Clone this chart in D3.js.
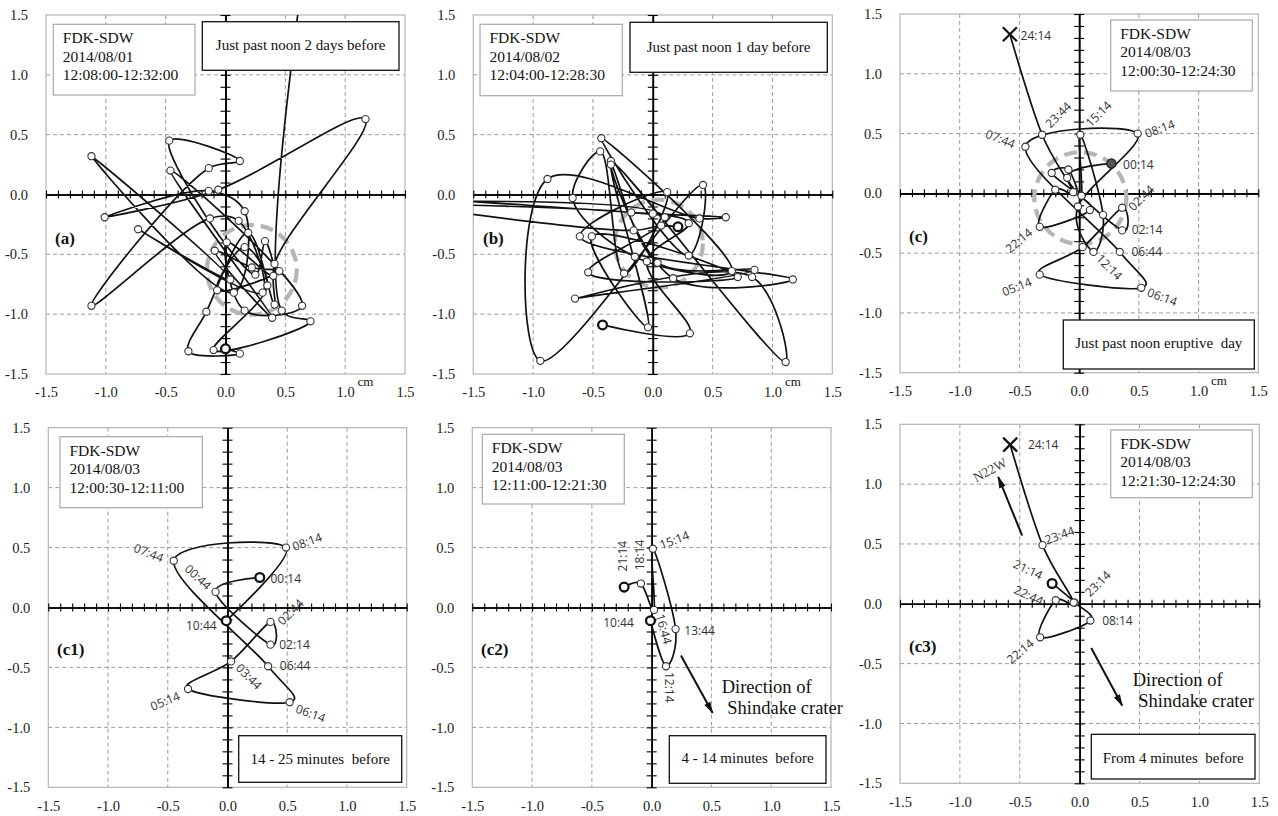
<!DOCTYPE html>
<html>
<head>
<meta charset="utf-8">
<script src="https://cdn.jsdelivr.net/npm/d3@7"></script>
<style>
  body { margin: 0; background: #fff; }
  svg { display: block; }
  text { white-space: pre; }
</style>
</head>
<body>
<svg id="chart" width="1278" height="816"></svg>
<script>
// ---- axis values -------------------------------------------------------
const tickValues = [-1.5, -1.0, -0.5, 0.0, 0.5, 1.0, 1.5];
const gridValues = [-1.0, -0.5, 0.5, 1.0];
const minorTicks = d3.range(-15, 16).map(i => i / 10);

// ---- panel texts -------------------------------------------------------
const station = "FDK-SDW";
const dates = ["2014/08/01", "2014/08/02", "2014/08/03", "2014/08/03", "2014/08/03", "2014/08/03"];
const spans = ["12:08:00-12:32:00", "12:04:00-12:28:30", "12:00:30-12:24:30",
               "12:00:30-12:11:00", "12:11:00-12:21:30", "12:21:30-12:24:30"];
const notes = ["Just past noon 2 days before", "Just past noon 1 day before", "Just past noon eruptive  day",
               "14 - 25 minutes  before", "4 - 14 minutes  before", "From 4 minutes  before"];
const tags = ["(a)", "(b)", "(c)", "(c1)", "(c2)", "(c3)"];

// ---- tilt tracks (cm): 2014/08/01 and 2014/08/02 -----------------------
const trackA = [
  [0.00, -1.29], [0.12, -1.33], [-0.31, -1.31], [-0.16, -0.98], [0.19, -0.32],
  [0.41, -0.92], [0.41, -0.58], [1.17, 0.63], [-0.06, 0.04],
  [-1.01, -0.19], [-0.14, 0.03], [0.16, -0.14], [0.07, -0.82], [-1.12, 0.32],
  [0.04, -0.71], [-0.73, -0.29], [0.31, -0.82], [0.11, -0.22], [-0.13, -0.20],
  [-1.12, -0.93], [-0.14, 0.22], [0.12, 0.28], [-0.47, 0.45], [0.25, -0.67],
  [0.33, -0.39], [0.40, -0.68], [0.01, -0.40], [0.16, -0.97], [0.64, -0.93],
  [-0.46, 0.20], [0.39, -1.03], [-0.09, -0.47], [0.22, -0.61], [0.45, -0.64],
  [-0.07, -0.80], [0.16, -0.44], [0.35, -0.76], [-0.10, -1.30], [0.71, -1.06],
  [0.47, -0.97], [0.85, 3.20]
];
const trackB = [
  [0.21, -0.27], [0.07, -0.26], [-0.16, -0.30], [-2.60, 0.00], [0.00, -0.16],
  [0.61, -0.19], [0.39, -0.20], [-0.88, 0.13], [-0.94, -1.39], [0.42, 0.08],
  [0.30, -0.51], [-0.43, 0.47], [0.66, -0.64], [-0.15, -0.52], [-0.67, -0.03],
  [-0.44, 0.36], [-0.24, -0.66], [0.12, 0.02], [-0.61, -0.35], [1.17, -0.71],
  [0.17, -0.70], [-0.35, 0.28], [1.11, -1.40], [0.83, -0.69], [-0.65, -0.87],
  [0.85, -0.63], [0.04, -0.57], [-0.35, 0.25], [-0.04, -1.11], [-0.51, -0.35],
  [0.71, -0.69], [-0.54, -0.65], [0.10, -0.19], [-2.60, -0.07], [-0.18, -0.15],
  [0.30, -0.24], [-0.05, -0.56], [0.31, -1.16], [-0.42, -1.09]
];

// ---- 2014/08/03, split into three stretches (label = mm:ss after 12:00) --
const c1Times = ["00:14", "00:44", "02:14", "02:44", "03:44", "05:14", "06:14", "06:44", "07:44", "08:14", "10:44"];
const c1X = [0.27, -0.10, 0.36, 0.36, 0.03, -0.33, 0.52, 0.34, -0.45, 0.49, -0.01];
const c1Y = [0.25, 0.13, -0.31, -0.12, -0.45, -0.68, -0.79, -0.49, 0.39, 0.50, -0.11];

const c2Times = ["10:44", "12:14", "13:44", "15:14", "16:44", "18:14", "21:14"];
const c2X = [-0.01, 0.12, 0.20, 0.01, 0.02, -0.09, -0.23];
const c2Y = [-0.11, -0.49, -0.18, 0.49, -0.02, 0.20, 0.17];

const c3Times = ["21:14", "", "08:14", "22:14", "22:44", "23:14", "23:44", "24:14"];
const c3X = [-0.23, -0.04, 0.09, -0.33, -0.20, -0.05, -0.31, -0.58];
const c3Y = [0.17, 0.01, -0.14, -0.28, 0.03, 0.01, 0.49, 1.33];

// grey dashed reference circles: centre x, centre y, radius (cm)
const haloA = [0.22, -0.63, 0.375];
const haloB = [0.05, -0.41, 0.368];
const haloC = [0.01, -0.04, 0.385];

// direction arrows (cm): crater direction and N22W
const craterArrowC2 = [[0.245, -0.40], [0.51, -0.88]];
const craterArrowC3 = [[0.097, -0.37], [0.355, -0.85]];
const northArrowC3 = [[-0.48, 0.57], [-0.68, 1.06]];

// ---- assemble series ---------------------------------------------------
function series(part, times, xs, ys) {
  return times.map((t, i) => ({ part, t, x: xs[i], y: ys[i] }));
}
const s1 = series("c1", c1Times, c1X, c1Y);
const s2 = series("c2", c2Times, c2X, c2Y);
const s3 = series("c3", c3Times, c3X, c3Y);
const sAll = [...s1, ...s2.slice(1), ...s3.slice(1)];
const sA = trackA.map(([x, y]) => ({ part: "a", t: "", x, y }));
const sB = trackB.map(([x, y]) => ({ part: "b", t: "", x, y }));

// ---- label placement: [part, label, dx, dy, rotation] ------------------
const labelsC = [
  ["c1", "07:44", -25, -8, 22], ["c1", "08:14", 22, -5, -20], ["c1", "00:14", 27, 1, 0],
  ["c1", "02:44", 19, -10, -45], ["c1", "02:14", 25, -1, 0], ["c1", "06:44", 27, 0, 0],
  ["c1", "05:14", -23, 12, -22], ["c1", "06:14", 21, 9, 20],
  ["c2", "15:14", 18, -21, -45], ["c2", "12:14", 16, 15, 45],
  ["c3", "24:14", 26, 1, 0], ["c3", "23:44", 16, -20, -45], ["c3", "22:14", -21, 13.6, -40]
];
const labelsC1 = [
  ["c1", "00:14", 26, 1, 0], ["c1", "00:44", -17.5, -15, 42], ["c1", "02:14", 24, -0.5, 0],
  ["c1", "02:44", 20, -10, -45], ["c1", "03:44", 18, 15, 45], ["c1", "05:14", -23, 12, -22],
  ["c1", "06:14", 21, 11, 20], ["c1", "06:44", 27, -1, 0], ["c1", "07:44", -25, -8, 22],
  ["c1", "08:14", 21, -6, -20], ["c1", "10:44", -25, 4.4, 0]
];
const labelsC2 = [
  ["c2", "15:14", 21.5, -9, -20], ["c2", "21:14", -2, -31, -90], ["c2", "18:14", -1, -28.5, -90],
  ["c2", "10:44", -32, 2, 0], ["c2", "16:44", 10, 19, 75], ["c2", "13:44", 24, 1, 0],
  ["c2", "12:14", 4, 21, 90]
];
const labelsC3 = [
  ["c3", "24:14", 33, 0, 0], ["c3", "23:44", 17, -10, -20], ["c3", "21:14", -24, -14, 25],
  ["c3", "22:44", -27, -5, 25], ["c3", "23:14", 24, -19, -45], ["c3", "08:14", 27, 0, 0],
  ["c3", "22:14", -20, 14, -40]
];

// smoothing: centripetal spline for the dense two-day tracks, plain cardinal for 08/03
const denseCurve = d3.curveCatmullRom.alpha(0.5);
const cardinal = d3.curveCardinal.tension(0);

// ---- panel geometry (pixels) -------------------------------------------
const panels = [
  { id: "a", pts: sA, halo: haloA, labels: [], start: "bold", end: "none", curve: denseCurve,
    frame: [46, 405, 15, 374], info: [53.3, 24.3, 141.7, 70.7], note: [202.3, 21.7, 196.7, 48.6, 28.3],
    tag: [55, 244], cm: 365.5 },
  { id: "b", pts: sB, halo: haloB, labels: [], start: "bold", end: "bold", curve: denseCurve,
    frame: [473.3, 832.3, 15, 374], info: [480, 24.3, 142.3, 71.4], note: [630, 22.3, 197.3, 50, 29.4],
    tag: [483, 244], cm: 793 },
  { id: "c", pts: sAll, halo: haloC, labels: labelsC, start: "filled", end: "cross", curve: cardinal,
    frame: [900, 1258.3, 14, 372.7], info: [1110.7, 20, 141.6, 71], note: [1063.3, 320, 191, 49, 28.3],
    tag: [909, 242], cm: 1219 },
  { id: "c1", pts: s1, halo: null, labels: labelsC1, start: "bold", end: "bold", curve: cardinal,
    frame: [48.3, 406.7, 427.7, 787.3], info: [60, 436.7, 142.3, 71], note: [238.7, 735.7, 163, 46.6, 28.3],
    tag: [57, 655], cm: null },
  { id: "c2", pts: s2, halo: null, labels: labelsC2, start: "bold", end: "bold", curve: cardinal,
    frame: [472.3, 831, 427.7, 787.3], info: [482.3, 434.3, 142, 69.7], note: [669.3, 735.7, 156.7, 47.6, 27.6],
    tag: [481, 655], cm: null },
  { id: "c3", pts: s3, halo: null, labels: labelsC3, start: "bold", end: "cross", curve: cardinal,
    frame: [900, 1259.3, 424.3, 783.3], info: [1110.7, 430, 141.6, 67.7], note: [1091.3, 734.3, 163.7, 44.7, 29],
    tag: [909, 652], cm: null }
];

const SERIF = "'Liberation Serif', 'Times New Roman', Times, serif";
const SANS = "'Open Sans', 'Noto Sans', sans-serif";

const svg = d3.select("#chart");
const defs = svg.append("defs");
defs.append("marker")
  .attr("id", "arrowHead")
  .attr("viewBox", "0 0 12 8")
  .attr("refX", 11).attr("refY", 4)
  .attr("markerUnits", "userSpaceOnUse")
  .attr("markerWidth", 13).attr("markerHeight", 8)
  .attr("orient", "auto")
  .append("path").attr("d", "M0,0.6 L12,4 L0,7.4 Z").attr("fill", "#111");

panels.forEach((p, idx) => {
  const [L, R, T, B] = p.frame;
  const x = d3.scaleLinear().domain([-1.5, 1.5]).range([L, R]);
  const y = d3.scaleLinear().domain([-1.5, 1.5]).range([B, T]);
  const g = svg.append("g").attr("class", "panel-" + p.id);

  defs.append("clipPath").attr("id", "clip-" + p.id)
    .append("rect").attr("x", L).attr("y", T).attr("width", R - L).attr("height", B - T);

  // dashed grid
  const grid = g.append("g").attr("stroke", "#9c9c9c").attr("stroke-dasharray", "4,3").attr("stroke-width", 1);
  grid.selectAll("line.v").data(gridValues).join("line").attr("class", "v")
    .attr("x1", d => x(d)).attr("x2", d => x(d)).attr("y1", T).attr("y2", B);
  grid.selectAll("line.h").data(gridValues).join("line").attr("class", "h")
    .attr("y1", d => y(d)).attr("y2", d => y(d)).attr("x1", L).attr("x2", R);

  // plot frame
  g.append("rect").attr("x", L).attr("y", T).attr("width", R - L).attr("height", B - T)
    .attr("fill", "none").attr("stroke", "#b4b4b4").attr("stroke-width", 1.2);

  // tick labels along the frame
  const fmt = d => d.toFixed(1);
  g.append("g").attr("transform", `translate(${L},0)`)
    .call(d3.axisLeft(y).tickValues(tickValues).tickFormat(fmt).tickSize(0).tickPadding(18))
    .call(a => a.select(".domain").remove())
    .attr("font-family", SERIF).attr("font-size", 14.5).attr("color", "#222");
  g.append("g").attr("transform", `translate(0,${B})`)
    .call(d3.axisBottom(x).tickValues(tickValues).tickFormat(fmt).tickSize(0).tickPadding(13))
    .call(a => a.select(".domain").remove())
    .attr("font-family", SERIF).attr("font-size", 14.5).attr("color", "#222");

  // zero axes with 0.1 cm ticks crossing the line
  const axisStyle = sel => sel.attr("color", "#000")
    .call(a => a.select(".domain").attr("stroke-width", 1.6))
    .call(a => a.selectAll(".tick line").attr("stroke-width", 1.1));
  g.append("g").attr("transform", `translate(0,${y(0)})`)
    .call(d3.axisBottom(x).tickValues(minorTicks).tickFormat("").tickSizeInner(4).tickSizeOuter(0)).call(axisStyle);
  g.append("g").attr("transform", `translate(0,${y(0)})`)
    .call(d3.axisTop(x).tickValues(minorTicks).tickFormat("").tickSizeInner(4).tickSizeOuter(0)).call(axisStyle);
  g.append("g").attr("transform", `translate(${x(0)},0)`)
    .call(d3.axisLeft(y).tickValues(minorTicks).tickFormat("").tickSizeInner(5).tickSizeOuter(0)).call(axisStyle);
  g.append("g").attr("transform", `translate(${x(0)},0)`)
    .call(d3.axisRight(y).tickValues(minorTicks).tickFormat("").tickSizeInner(5).tickSizeOuter(0)).call(axisStyle);

  // grey dashed circle
  if (p.halo) {
    const [hx, hy, hr] = p.halo;
    g.append("circle").attr("cx", x(hx)).attr("cy", y(hy)).attr("r", x(hr) - x(0))
      .attr("fill", "none").attr("stroke", "#b5b5b5").attr("stroke-width", 4.2)
      .attr("stroke-dasharray", "13,7");
  }

  // smoothed trajectory
  const line = d3.line().x(d => x(d.x)).y(d => y(d.y)).curve(p.curve);
  const data = g.append("g").attr("clip-path", `url(#clip-${p.id})`);
  data.append("path").attr("d", line(p.pts))
    .attr("fill", "none").attr("stroke", "#111").attr("stroke-width", 1.7).attr("stroke-linejoin", "round");

  // point markers
  const last = p.pts.length - 1;
  const kind = i => i === 0 ? p.start : (i === last ? p.end : "plain");
  const mk = data.selectAll("g.pt").data(p.pts.map((d, i) => ({ ...d, k: kind(i) }))).join("g").attr("class", "pt")
    .attr("transform", d => `translate(${x(d.x)},${y(d.y)})`);
  mk.filter(d => d.k === "plain").append("circle").attr("r", 3.6)
    .attr("fill", "#fff").attr("stroke", "#333").attr("stroke-width", 1.1);
  mk.filter(d => d.k === "bold").append("circle").attr("r", 4.4)
    .attr("fill", "#fff").attr("stroke", "#111").attr("stroke-width", 2.3);
  mk.filter(d => d.k === "filled").append("circle").attr("r", 4.6)
    .attr("fill", "#555").attr("stroke", "#222").attr("stroke-width", 1.3);
  const cross = mk.filter(d => d.k === "cross");
  cross.append("line").attr("x1", -7).attr("y1", -7).attr("x2", 7).attr("y2", 7);
  cross.append("line").attr("x1", -7).attr("y1", 7).attr("x2", 7).attr("y2", -7);
  cross.selectAll("line").attr("stroke", "#111").attr("stroke-width", 2.2);

  // time labels
  g.append("g").selectAll("text").data(p.labels).join("text")
    .attr("transform", ([part, t, dx, dy, rot]) => {
      const d = p.pts.find(q => q.part === part && q.t === t);
      return `translate(${x(d.x) + dx},${y(d.y) + dy}) rotate(${rot})`;
    })
    .attr("text-anchor", "middle").attr("dominant-baseline", "central")
    .attr("font-family", SANS).attr("font-size", 12).attr("fill", "#333")
    .text(d => d[1]);

  // direction arrows
  const arrow = (pair, w) => g.append("line")
    .attr("x1", x(pair[0][0])).attr("y1", y(pair[0][1]))
    .attr("x2", x(pair[1][0])).attr("y2", y(pair[1][1]))
    .attr("stroke", "#111").attr("stroke-width", w).attr("marker-end", "url(#arrowHead)");
  if (p.id === "c2" || p.id === "c3") {
    arrow(p.id === "c2" ? craterArrowC2 : craterArrowC3, 2);
    const tx = p.id === "c2" ? [721.7, 692.7, 727.3, 714.3] : [1132.7, 686, 1138.3, 707.3];
    g.append("text").attr("x", tx[0]).attr("y", tx[1]).text("Direction of")
      .attr("font-family", SERIF).attr("font-size", 18.5).attr("fill", "#111");
    g.append("text").attr("x", tx[2]).attr("y", tx[3]).text("Shindake crater")
      .attr("font-family", SERIF).attr("font-size", 18.5).attr("fill", "#111");
  }
  if (p.id === "c3") {
    arrow(northArrowC3, 2);
    g.append("text").attr("transform", "translate(990,470) rotate(-28)")
      .attr("text-anchor", "middle").attr("dominant-baseline", "central")
      .attr("font-family", SERIF).attr("font-size", 13.5).attr("fill", "#444").text("N22W");
  }

  // station / date box
  const [ix, iy, iw, ih] = p.info;
  g.append("rect").attr("x", ix).attr("y", iy).attr("width", iw).attr("height", ih)
    .attr("fill", "#fff").attr("stroke", "#a8a8a8").attr("stroke-width", 1.2);
  [station, dates[idx], spans[idx]].forEach((s, k) => {
    g.append("text").attr("x", ix + 9.5).attr("y", iy + 18.8 + k * 18.5).text(s)
      .attr("font-family", SERIF).attr("font-size", 15.5).attr("fill", "#111");
  });

  // period note box
  const [nx, ny, nw, nh, nb] = p.note;
  g.append("rect").attr("x", nx).attr("y", ny).attr("width", nw).attr("height", nh)
    .attr("fill", "#fff").attr("stroke", "#111").attr("stroke-width", 1.3);
  g.append("text").attr("x", nx + nw / 2).attr("y", ny + nb).attr("text-anchor", "middle")
    .text(notes[idx]).attr("font-family", SERIF).attr("font-size", 15).attr("fill", "#111");

  // panel tag
  g.append("text").attr("x", p.tag[0]).attr("y", p.tag[1]).text(tags[idx])
    .attr("font-family", SERIF).attr("font-size", 17).attr("font-weight", "bold").attr("fill", "#111");

  // unit label
  if (p.cm) {
    g.append("text").attr("x", p.cm).attr("y", B + 12).attr("text-anchor", "middle").text("cm")
      .attr("font-family", SERIF).attr("font-size", 13).attr("fill", "#111");
  }
});
</script>
</body>
</html>
